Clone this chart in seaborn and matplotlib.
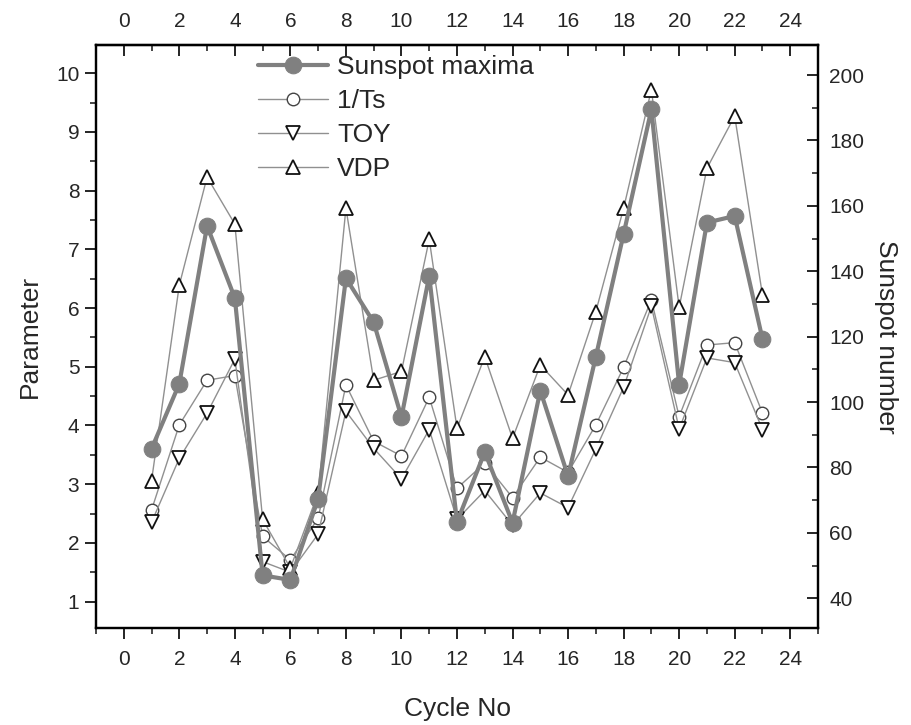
import matplotlib
matplotlib.use("Agg")
import matplotlib.pyplot as plt
from matplotlib.ticker import MultipleLocator
import seaborn as sns

# ---------------- data ----------------
cycles = list(range(1, 24))
sunspot_maxima = [85.7, 105.6, 153.9, 131.8, 47.0, 45.6, 70.4, 137.9, 124.4, 95.4,
                  138.6, 63.3, 84.7, 63.1, 103.5, 77.3, 113.9, 151.4, 189.5, 105.3,
                  154.9, 156.9, 119.3]
inv_ts = [2.56, 4.01, 4.77, 4.85, 2.11, 1.71, 2.42, 4.69, 3.73, 3.48, 4.48, 2.93,
          3.36, 2.77, 3.46, 3.20, 4.01, 4.99, 6.14, 4.15, 5.37, 5.41, 4.21]
toy = [2.35, 3.44, 4.21, 5.13, 1.68, 1.50, 2.15, 4.24, 3.61, 3.09, 3.93, 2.40,
       2.89, 2.30, 2.85, 2.60, 3.60, 4.65, 6.03, 3.94, 5.15, 5.07, 3.93]
vdp = [3.06, 6.39, 8.23, 7.43, 2.40, 1.57, 2.85, 7.70, 4.77, 4.92, 7.17, 3.95,
       5.17, 3.78, 5.03, 4.52, 5.94, 7.70, 9.72, 6.01, 8.38, 9.27, 6.22]
series_labels = ["Sunspot maxima", "1/Ts", "TOY", "VDP"]
x_label = "Cycle No"
y_label = "Parameter"
y2_label = "Sunspot number"

# ---------------- style ----------------
sns.set_style("ticks")
plt.rcParams["font.family"] = ["Liberation Sans", "DejaVu Sans"]

fig = plt.figure(figsize=(9.11, 7.25), dpi=100)
L, R, T, B = 96, 818, 45, 628
ax = fig.add_axes([L / 911, 1 - B / 725, (R - L) / 911, (B - T) / 725])
ax2 = ax.twinx()

thin = "#909090"
sns.lineplot(x=cycles, y=inv_ts, ax=ax, color=thin, linewidth=1.0, marker="o",
             markersize=9, markerfacecolor="white", markeredgecolor="#444444",
             markeredgewidth=1.0)
sns.lineplot(x=cycles, y=toy, ax=ax, color=thin, linewidth=1.0, marker="v",
             markersize=10, markerfacecolor="white", markeredgecolor="#111111",
             markeredgewidth=1.3)
sns.lineplot(x=cycles, y=vdp, ax=ax, color=thin, linewidth=1.0, marker="^",
             markersize=10, markerfacecolor="white", markeredgecolor="#111111",
             markeredgewidth=1.3)
sns.lineplot(x=cycles, y=sunspot_maxima, ax=ax2, color="#808080", linewidth=3.0,
             marker="o", markersize=12, markerfacecolor="#808080",
             markeredgecolor="#808080")

ax.set_xlim(-1, 25)
ax.set_ylim(0.55, 10.48)
ax2.set_ylim(30.9, 209.2)

tick_kw = dict(labelsize=15, width=1.2, color="black")
ax.xaxis.set_major_locator(MultipleLocator(2))
ax.xaxis.set_minor_locator(MultipleLocator(1))
ax.yaxis.set_major_locator(MultipleLocator(1))
ax.yaxis.set_minor_locator(MultipleLocator(0.5))
ax2.yaxis.set_major_locator(MultipleLocator(20))
ax2.yaxis.set_minor_locator(MultipleLocator(10))
ax.tick_params(axis="both", which="major", direction="out", length=8, **tick_kw)
ax.tick_params(axis="both", which="minor", direction="out", length=4, width=1.2)
ax.tick_params(axis="x", pad=8)
ax.tick_params(axis="y", pad=4)
ax2.tick_params(axis="y", which="major", direction="in", length=8, pad=8, **tick_kw)
ax2.tick_params(axis="y", which="minor", direction="in", length=4, width=1.2)

top = ax.secondary_xaxis("top")
top.xaxis.set_major_locator(MultipleLocator(2))
top.xaxis.set_minor_locator(MultipleLocator(1))
top.tick_params(which="major", direction="in", length=8, pad=10, **tick_kw)
top.tick_params(which="minor", direction="in", length=4, width=1.2)

for a in (ax, ax2):
    for s in a.spines.values():
        s.set_linewidth(1.6)
        s.set_color("black")
for s in top.spines.values():
    s.set_linewidth(1.6)

ax.set_xlabel(x_label, fontsize=19, labelpad=20)
ax.set_ylabel(y_label, fontsize=19, labelpad=10)
ax2.set_ylabel(y2_label, fontsize=19, rotation=270, labelpad=24)

for a in (ax, ax2):
    lg = a.get_legend()
    if lg is not None:
        lg.remove()

l_sun, = ax2.get_lines()
l_ts, l_toy, l_vdp = ax.get_lines()[:3]
handles = [l_sun, l_ts, l_toy, l_vdp]
ax2.legend(handles, series_labels, loc="upper left",
           bbox_to_anchor=(258 / 911, 1 - 55 / 725), bbox_transform=fig.transFigure,
           frameon=False, fontsize=19, handlelength=2.65, handletextpad=0.35,
           labelspacing=0.38, borderpad=0, borderaxespad=0)

fig.savefig("out.png", dpi=100)
